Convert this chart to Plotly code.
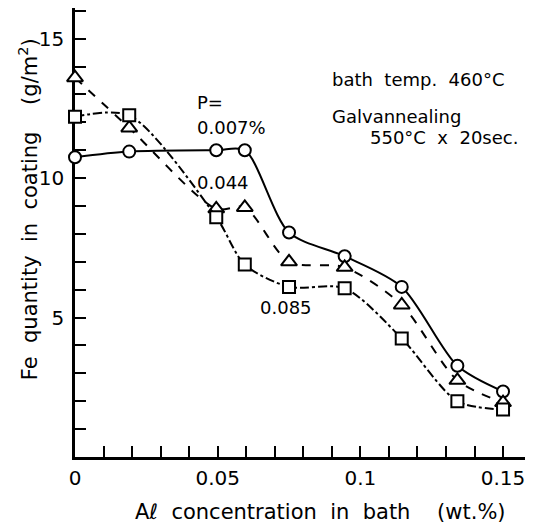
import plotly.graph_objects as go

# Data
al_conc = [0.0, 0.019, 0.0495, 0.0595, 0.075, 0.0945, 0.1145, 0.134, 0.150]
fe_p007 = [10.75, 10.95, 11.0, 11.0, 8.05, 7.2, 6.1, 3.27, 2.35]
fe_p044 = [13.6, 11.8, 8.9, 8.95, 7.0, 6.8, 5.45, 2.75, 1.95]
fe_p085 = [12.2, 12.25, 8.6, 6.9, 6.1, 6.05, 4.25, 2.0, 1.7]

x_tickvals = [0, 0.05, 0.1, 0.15]
x_ticktext = ["0", "0.05", "0.1", "0.15"]
y_tickvals = [5, 10, 15]
y_ticktext = ["5", "10", "15"]

FONT = "DejaVu Sans"

fig = go.Figure()

series = [
    (fe_p007, "circle", "solid", 12),
    (fe_p044, "triangle-up", "dash", 14),
    (fe_p085, "square", "dashdot", 12),
]
for yvals, sym, dash, msize in series:
    fig.add_trace(go.Scatter(
        x=al_conc, y=yvals, mode="lines+markers",
        line=dict(color="black", width=2, dash=dash, shape="spline", smoothing=0.8),
        marker=dict(symbol=sym, size=msize, color="white",
                    line=dict(color="black", width=2)),
        cliponaxis=False, showlegend=False,
    ))

ann_font = dict(family=FONT, size=18, color="black")
texts = [
    ("P=", 0.042, 12.7, "left"),
    ("0.007%", 0.042, 11.8, "left"),
    ("0.044", 0.042, 9.84, "left"),
    ("0.085", 0.074, 5.35, "center"),
    ("bath  temp.  460°C", 0.0894, 13.54, "left"),
    ("Galvannealing", 0.0894, 12.2, "left"),
    ("550°C  x  20sec.", 0.1027, 11.45, "left"),
]
annotations = []
for t, xx, yy, xa in texts:
    annotations.append(dict(text=t, x=xx, y=yy, xref="x", yref="y",
                            xanchor=xa, yanchor="middle", showarrow=False,
                            font=ann_font))

annotations.append(dict(text="Aℓ  concentration  in  bath    (wt.%)",
                        x=0.535, y=-0.1225, xref="paper", yref="paper",
                        xanchor="center", yanchor="middle", showarrow=False,
                        font=dict(family=FONT, size=21, color="black")))
annotations.append(dict(text="Fe  quantity  in  coating    (g/m<sup>2</sup>)",
                        x=-0.1026, y=0.552, xref="paper", yref="paper",
                        xanchor="center", yanchor="middle", showarrow=False,
                        textangle=-90,
                        font=dict(family=FONT, size=21, color="black")))

fig.update_layout(
    width=525, height=516,
    margin=dict(l=67, r=0, t=0, b=67),
    paper_bgcolor="white", plot_bgcolor="white",
    annotations=annotations,
    font=dict(family=FONT, color="black"),
)
fig.update_xaxes(
    range=[0, 0.1605], showgrid=False, zeroline=False,
    showline=True, linecolor="black", linewidth=2.5,
    tickmode="array", tickvals=x_tickvals, ticktext=x_ticktext,
    ticks="inside", ticklen=11, tickwidth=1.5, tickcolor="black",
    minor=dict(dtick=0.01, tick0=0, ticks="inside", ticklen=11, tickwidth=1.5, tickcolor="black"),
    tickfont=dict(family=FONT, size=20, color="black"),
    ticklabelstandoff=1, layer="below traces",
)
fig.update_yaxes(
    range=[0, 16.1], showgrid=False, zeroline=False,
    showline=True, linecolor="black", linewidth=2.5,
    tickmode="array", tickvals=y_tickvals, ticktext=y_ticktext,
    ticks="inside", ticklen=11, tickwidth=1.5, tickcolor="black",
    minor=dict(dtick=1, tick0=0, ticks="inside", ticklen=11, tickwidth=1.5, tickcolor="black"),
    tickfont=dict(family=FONT, size=20, color="black"),
    ticklabelstandoff=4, layer="below traces",
)

fig.write_html("out.html")
